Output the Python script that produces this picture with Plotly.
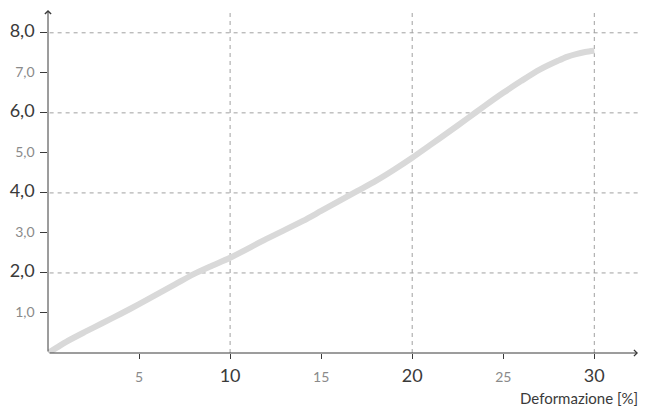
import plotly.graph_objects as go

# curve: deformazione [%] vs carico
strain = [0, 0.5, 1, 2, 3, 4, 5, 6, 7, 8, 9, 10, 12, 14, 15, 16, 17, 18, 19, 20,
          21, 22, 23, 24, 25, 26, 27, 28, 28.5, 29, 29.5, 30]
stress = [0, 0.14, 0.28, 0.52, 0.75, 0.98, 1.22, 1.47, 1.72, 1.97, 2.18, 2.38, 2.85, 3.3,
          3.55, 3.8, 4.05, 4.3, 4.58, 4.88, 5.2, 5.52, 5.85, 6.18, 6.5, 6.8, 7.08, 7.3,
          7.4, 7.47, 7.52, 7.55]

x_major = [10, 20, 30]
x_minor = [5, 15, 25]
y_major = [2, 4, 6, 8]
y_minor = [1, 3, 5, 7]
x_title = "Deformazione [%]"

FONT = "Lato"
DARK = "#3a3a3a"
LIGHT = "#8a8a8a"

def lab(v, major, fmt):
    s = fmt(v)
    if major:
        return f"<span style='font-size:18px;color:{DARK}'>{s}</span>"
    return f"<span style='font-size:14px;color:{LIGHT}'>{s}</span>"

xv = sorted(x_major + x_minor)
yv = sorted(y_major + y_minor)
xt = [lab(v, v in x_major, lambda a: str(a)) for v in xv]
yt = [lab(v, v in y_major, lambda a: f"{a:.1f}".replace(".", ",")) for v in yv]

XMAX, YMAX = 32.4, 8.57

fig = go.Figure()
fig.add_trace(go.Scatter(x=strain, y=stress, mode="lines",
    line=dict(color="#d9d9d9", width=6, shape="spline", smoothing=0.8),
    hoverinfo="skip", showlegend=False))

for v in x_major:
    fig.add_shape(type="line", x0=v, x1=v, y0=-0.2, y1=YMAX, xref="x", yref="y",
                  line=dict(color="#a0a0a0", width=1, dash="4px,4px"), layer="below")
for v in y_major:
    fig.add_shape(type="line", x0=-0.35, x1=XMAX, y0=v, y1=v, xref="x", yref="y",
                  line=dict(color="#a0a0a0", width=1, dash="4px,4px"), layer="below")

# axes with arrows
fig.add_annotation(x=XMAX, y=0, ax=0, ay=0, xref="x", yref="y", axref="x", ayref="y",
                   showarrow=True, arrowhead=4, arrowsize=1.2, arrowwidth=1, arrowcolor=DARK, text="")
fig.add_annotation(x=0, y=YMAX, ax=0, ay=0, xref="x", yref="y", axref="x", ayref="y",
                   showarrow=True, arrowhead=4, arrowsize=1.2, arrowwidth=1, arrowcolor=DARK, text="")
fig.add_annotation(text=x_title, xref="paper", yref="paper", x=1.004, y=-0.131,
                   xanchor="right", yanchor="middle", showarrow=False,
                   font=dict(size=15, color=DARK, family=FONT))

fig.update_xaxes(range=[0, XMAX], tickvals=xv, ticktext=xt, showgrid=False, zeroline=False,
                 showline=False, ticks="outside", ticklen=5, tickcolor=DARK, tickwidth=1,
                 automargin=False, ticklabelstandoff=9)
fig.update_yaxes(range=[0, YMAX], tickvals=yv, ticktext=yt, showgrid=False, zeroline=False,
                 showline=False, ticks="outside", ticklen=7, tickcolor=DARK, tickwidth=1,
                 automargin=False, ticklabelstandoff=3)
# page body adds 8px margin, so the figure is sized 8px smaller each way
fig.update_layout(width=640, height=404, margin=dict(l=40, r=10, t=2, b=59, autoexpand=False),
                  plot_bgcolor="white", paper_bgcolor="white",
                  font=dict(family=FONT, color=DARK))
fig.write_html("out.html")
